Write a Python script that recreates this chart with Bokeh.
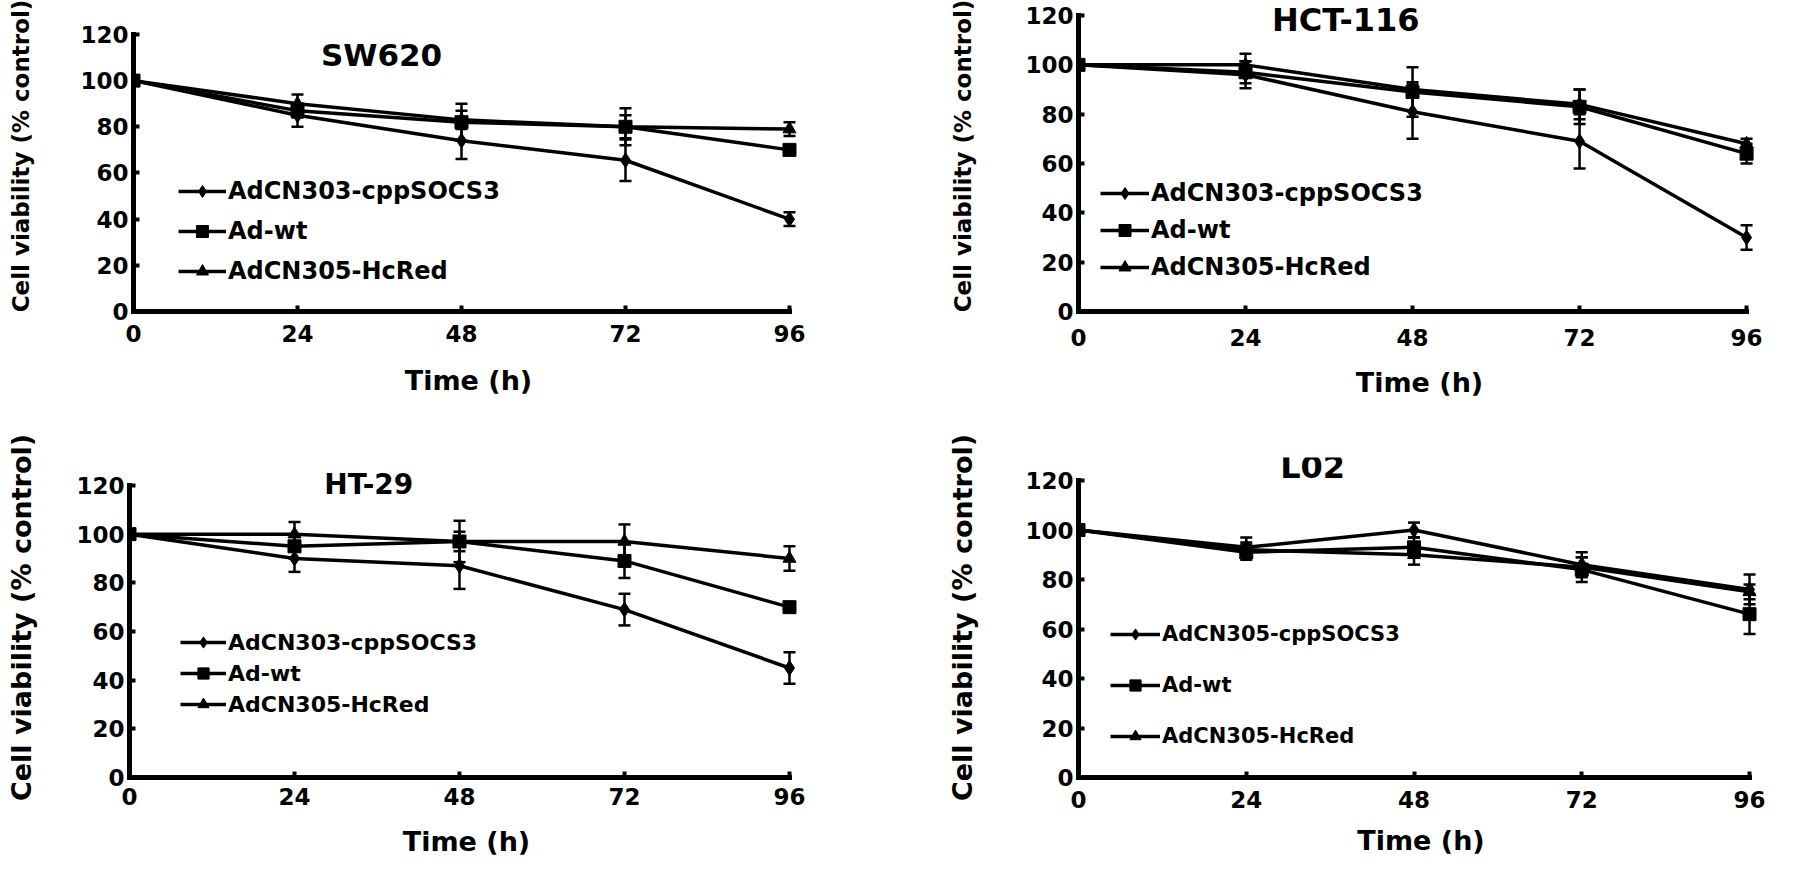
from bokeh.plotting import figure
from bokeh.models import (Range1d, FixedTicker, Label, Legend, LegendItem,
                          Whisker, TeeHead, ColumnDataSource)
from bokeh.layouts import column, row
from bokeh.embed import file_html
from bokeh.resources import INLINE

hours = [0, 24, 48, 72, 96]
y_ticks = [0, 20, 40, 60, 80, 100, 120]
series_names = ["AdCN303-cppSOCS3", "Ad-wt", "AdCN305-HcRed"]
l02_names = ["AdCN305-cppSOCS3", "Ad-wt", "AdCN305-HcRed"]

# SW620
sw620_socs3 = [100, 85, 74, 65.5, 40]
sw620_socs3_err = [0, 5, 8, 9, 3]
sw620_adwt = [100, 87, 82, 80, 70]
sw620_adwt_err = [0, 3, 8, 8, 2]
sw620_hcred = [100, 90, 83, 80, 79]
sw620_hcred_err = [0, 4, 4, 5, 3]

# HCT-116
hct_socs3 = [100, 96, 81, 69, 30]
hct_socs3_err = [0, 5.5, 11, 11, 5]
hct_adwt = [100, 97, 89, 83, 64]
hct_adwt_err = [0, 4.5, 10, 7, 4]
hct_hcred = [100, 100, 90, 84, 68]
hct_hcred_err = [0, 4.5, 3, 6, 2]

# HT-29
ht29_socs3 = [100, 90, 87, 69, 45]
ht29_socs3_err = [0, 5.5, 9.5, 6.5, 6.5]
ht29_adwt = [100, 95, 97, 89, 70]
ht29_adwt_err = [0, 5, 8.5, 7, 2]
ht29_hcred = [100, 100, 97, 97, 90]
ht29_hcred_err = [0, 5, 4, 7, 5]

# L02
l02_socs3 = [100, 93, 100, 86, 76]
l02_socs3_err = [0, 4, 3, 5, 6]
l02_adwt = [100, 91, 93, 84, 66]
l02_adwt_err = [0, 3, 4, 5, 8]
l02_hcred = [100, 92, 90, 85, 75]
l02_hcred_err = [0, 3, 4, 4, 3]

FONT = "DejaVu Sans"
markers = [("diamond", 15), ("square", 13), ("triangle", 13)]


def make_panel(name, names, values, errors, g):
    p = figure(width=g["w"], height=g["h"], output_backend="svg",
               toolbar_location=None, tools="",
               x_range=Range1d(0, g["xend"]), y_range=Range1d(0, g["yend"]),
               min_border_left=g["mbl"], min_border_right=g["mbr"],
               min_border_top=g["mbt"], min_border_bottom=g["mbb"])
    p.grid.visible = False
    p.outline_line_color = None

    p.xaxis.bounds = (0, 96)
    p.yaxis.bounds = (0, 120)
    p.xaxis.ticker = FixedTicker(ticks=hours)
    p.yaxis.ticker = FixedTicker(ticks=y_ticks)
    p.xaxis.axis_label = "Time (h)"
    p.yaxis.axis_label = "Cell viability (% control)"
    for ax in (p.xaxis, p.yaxis):
        ax.axis_line_width = 5
        ax.axis_line_color = "black"
        ax.axis_line_cap = "square"
        ax.major_tick_in = 6
        ax.major_tick_out = 0
        ax.major_tick_line_width = 4
        ax.minor_tick_line_color = None
        ax.major_label_text_font = FONT
        ax.major_label_text_font_style = "bold"
        ax.major_label_text_font_size = "23px"
        ax.major_label_text_color = "black"
        ax.axis_label_text_font = FONT
        ax.axis_label_text_font_style = "bold"
        ax.axis_label_text_font_size = "27px"
        ax.axis_label_text_color = "black"
    p.yaxis.axis_label_text_font_size = g["yfs"]
    p.xaxis.major_label_standoff = g["xs1"]
    p.xaxis.axis_label_standoff = g["xs2"]
    p.yaxis.major_label_standoff = g["ys1"]
    p.yaxis.axis_label_standoff = g["ys2"]

    items = []
    for label, vals, errs, (mk, sz) in zip(names, values, errors, markers):
        ln = p.line(hours, vals, line_width=3.5, color="black")
        sc = p.scatter(hours, vals, marker=mk, size=sz, color="black")
        keep = [i for i, e in enumerate(errs) if e > 0]
        src = ColumnDataSource(dict(
            x=[hours[i] for i in keep],
            upper=[vals[i] + errs[i] for i in keep],
            lower=[vals[i] - errs[i] for i in keep]))
        p.add_layout(Whisker(source=src, base="x", upper="upper", lower="lower",
                             line_width=2.5, line_color="black",
                             upper_head=TeeHead(size=12, line_width=2.5, line_color="black"),
                             lower_head=TeeHead(size=12, line_width=2.5, line_color="black")))
        items.append(LegendItem(label=label, renderers=[ln, sc]))

    legend = Legend(items=items, location=g["leg"], padding=0, margin=0,
                    border_line_color=None, background_fill_alpha=0,
                    glyph_width=g["gw"], glyph_height=g["gh"], label_height=g["gh"],
                    spacing=g["sp"], label_standoff=2,
                    label_text_font=FONT, label_text_font_style="bold",
                    label_text_font_size=g["lfs"], label_text_color="black")
    p.add_layout(legend)

    p.add_layout(Label(x=g["tx"], y=g["ty"], text=name, text_align="center",
                       text_baseline="middle", text_font=FONT, text_color="black",
                       text_font_style="bold", text_font_size=g["tfs"]))
    return p


p1 = make_panel("SW620", series_names,
                [sw620_socs3, sw620_adwt, sw620_hcred],
                [sw620_socs3_err, sw620_adwt_err, sw620_hcred_err],
                dict(w=842, h=430, mbl=133, mbr=39, mbt=0, mbb=119,
                     xend=98.05, yend=134.7, yfs="23px",
                     xs1=13, xs2=20, ys1=5, ys2=43,
                     leg=(45, 25), gw=48, gh=30, sp=10, lfs="24px",
                     tx=36.3, ty=110.9, tfs="31px"))

p2 = make_panel("HCT-116", series_names,
                [hct_socs3, hct_adwt, hct_hcred],
                [hct_socs3_err, hct_adwt_err, hct_hcred_err],
                dict(w=937, h=430, mbl=236, mbr=19, mbt=0, mbb=119,
                     xend=98.0, yend=126.1, yfs="23px",
                     xs1=17, xs2=18, ys1=5, ys2=46,
                     leg=(22, 29), gw=49, gh=30, sp=7, lfs="24px",
                     tx=38.4, ty=118, tfs="32px"))

p3 = make_panel("HT-29", series_names,
                [ht29_socs3, ht29_adwt, ht29_hcred],
                [ht29_socs3_err, ht29_adwt_err, ht29_hcred_err],
                dict(w=842, h=432, mbl=129, mbr=39, mbt=27, mbb=85,
                     xend=98.04, yend=131.5, yfs="27px",
                     xs1=10, xs2=18, ys1=5, ys2=36,
                     leg=(51, 59), gw=46, gh=28, sp=3, lfs="22px",
                     tx=34.8, ty=120.4, tfs="28px"))

p4 = make_panel("L02", l02_names,
                [l02_socs3, l02_adwt, l02_hcred],
                [l02_socs3_err, l02_adwt_err, l02_hcred_err],
                dict(w=937, h=432, mbl=236, mbr=16, mbt=27, mbb=85,
                     xend=98.0, yend=129.3, yfs="27px",
                     xs1=13, xs2=14, ys1=5, ys2=44,
                     leg=(32, 27), gw=50, gh=28, sp=23, lfs="21px",
                     tx=33.5, ty=125.3, tfs="32px"))

layout = column(row(p1, p2), row(p3, p4))

open("out.html", "w").write(file_html(layout, INLINE))
